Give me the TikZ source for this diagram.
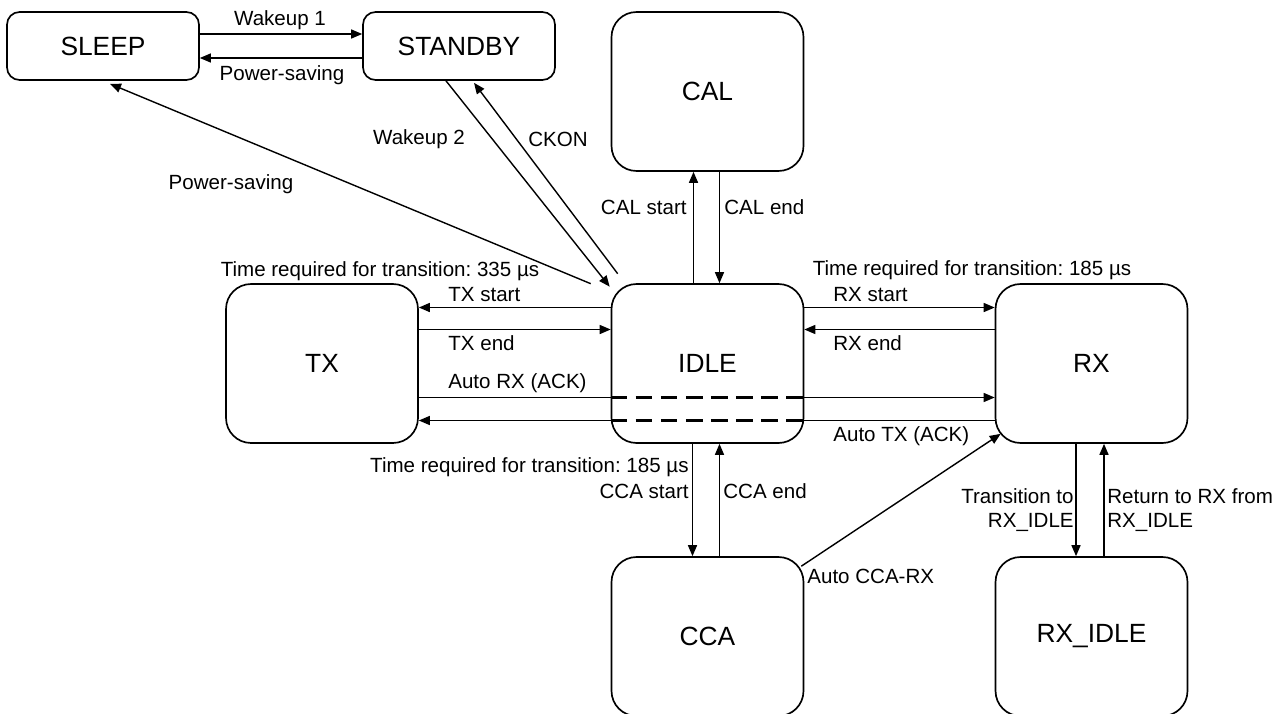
\documentclass[tikz,border=0pt]{standalone}
\usepackage{fontspec}
\setmainfont{Liberation Sans}
\usetikzlibrary{arrows.meta}
\frenchspacing

\tikzset{
  state/.style={draw, line width=0.95pt, rounded corners=0.5cm, inner sep=0pt,
    minimum width=3.84cm, minimum height=3.18cm,
    font=\fontsize{15}{18}\selectfont},
  smallstate/.style={state, rounded corners=0.25cm, minimum height=1.36cm},
  trans/.style={line width=0.8pt, -{Triangle[length=2.2mm,width=1.8mm]}},
  plain/.style={line width=0.8pt},
  via/.style={line width=1.9pt, dash pattern=on 0.334cm off 0.167cm},
  lbl/.style={inner sep=0pt, font=\fontsize{11.7}{13.5}\selectfont},
}

\begin{document}
\begin{tikzpicture}[x=0.02cm, y=-0.02cm]
\useasboundingbox (0,0) rectangle (1287,713);

% states
\node[smallstate] (sleep)   at (103,46)    {SLEEP};
\node[smallstate] (standby) at (459,46)    {STANDBY};
\node[state]      (cal)     at (707.5,91.5) {CAL};
\node[state]      (idle)    at (707.5,363.5) {IDLE};
\node[state]      (tx)      at (322,363.5)  {TX};
\node[state]      (rx)      at (1091.5,363.5) {RX};
\node[state]      (cca)     at (707.5,636.5) {CCA};
\node[state]      (rxidle)  at (1091.5,636.5) {RX\_IDLE};

% SLEEP <-> STANDBY
\draw[trans] ([yshift=0.24cm]sleep.east) -- ([yshift=0.24cm]standby.west);
\draw[trans] ([yshift=-0.24cm]standby.west) -- ([yshift=-0.24cm]sleep.east);
\node[lbl] (lw1) at (280,20) {Wakeup 1};
\node[lbl] (lps1) at (282,75) {Power-saving};

% IDLE -> SLEEP, STANDBY <-> IDLE
\draw[trans] ([shift={(-20,0.5)}]idle.north west) -- ([shift={(7,3)}]sleep.south);
\draw[trans] ([shift={(-13,0)}]standby.south) -- ([shift={(-1,3.5)}]idle.north west);
\draw[trans] ([shift={(7,-9.5)}]idle.north west) -- ([shift={(15,2)}]standby.south);
\node[lbl] (lps2) at (231,184) {Power-saving};
\node[lbl] (lw2) at (419,139) {Wakeup 2};
\node[lbl] (lckon) at (558,139) {CKON};

% IDLE <-> CAL
\draw[trans] ([xshift=-0.28cm]idle.north) -- ([xshift=-0.28cm]cal.south);
\draw[trans] ([xshift=0.24cm]cal.south) -- ([xshift=0.24cm]idle.north);
\node[lbl, anchor=east] (lcals) at (687,207) {CAL start};
\node[lbl, anchor=west] (lcale) at (724,207) {CAL end};

% IDLE <-> TX
\node[lbl] (ltx335) at (380,271) {Time required for transition: 335 µs};
\draw[trans] ([yshift=1.12cm]idle.west) -- ([yshift=1.12cm]tx.east);
\draw[trans] ([yshift=0.68cm]tx.east) -- ([yshift=0.68cm]idle.west);
\node[lbl, anchor=west] (ltxs) at (448,295) {TX start};
\node[lbl, anchor=west] (ltxe) at (448,343) {TX end};

% IDLE <-> RX
\node[lbl] (lrx185) at (972,270) {Time required for transition: 185 µs};
\draw[trans] ([yshift=1.12cm]idle.east) -- ([yshift=1.12cm]rx.west);
\draw[trans] ([yshift=0.68cm]rx.west) -- ([yshift=0.68cm]idle.east);
\node[lbl, anchor=west] (lrxs) at (833,295) {RX start};
\node[lbl, anchor=west] (lrxe) at (833,343) {RX end};

% automatic TX -> RX and RX -> TX through IDLE
\draw[plain] ([yshift=-0.68cm]tx.east) -- ([yshift=-0.68cm]idle.west);
\draw[via] ([yshift=-0.68cm]idle.west) -- ([yshift=-0.68cm]idle.east);
\draw[trans] ([yshift=-0.68cm]idle.east) -- ([yshift=-0.68cm]rx.west);
\node[lbl, anchor=west] (lautorx) at (448,383) {Auto RX (ACK)};

\draw[plain] ([yshift=-1.14cm]rx.west) -- ([yshift=-1.14cm]idle.east);
\draw[via] ([yshift=-1.14cm]idle.west) -- ([yshift=-1.14cm]idle.east);
\draw[trans] ([yshift=-1.14cm]idle.west) -- ([yshift=-1.14cm]tx.east);
\node[lbl, anchor=west] (lautotx) at (833,436) {Auto TX (ACK)};

% IDLE <-> CCA
\node[lbl, anchor=east] (lcca185) at (689,467) {Time required for transition: 185 µs};
\draw[trans] ([xshift=-0.3cm]idle.south) -- ([xshift=-0.3cm]cca.north);
\draw[trans] ([xshift=0.24cm]cca.north) -- ([xshift=0.24cm]idle.south);
\node[lbl, anchor=east] (lccas) at (689,491) {CCA start};
\node[lbl, anchor=west] (lccae) at (723,491) {CCA end};

% CCA -> RX
\draw[trans] ([shift={(-3,10)}]cca.north east) -- ([shift={(6,-10)}]rx.south west);
\node[lbl, anchor=west] (lccarx) at (807,576) {Auto CCA-RX};

% RX <-> RX_IDLE
\draw[trans] ([xshift=-0.31cm]rx.south) -- ([xshift=-0.31cm]rxidle.north);
\draw[trans] ([xshift=0.25cm]rxidle.north) -- ([xshift=0.25cm]rx.south);
\node[lbl, anchor=east, align=right] (ltorxi) at (1074,510) {Transition to\\RX\_IDLE};
\node[lbl, anchor=west, align=left] (lfromrxi) at (1107,510) {Return to RX from\\RX\_IDLE};
\end{tikzpicture}
\end{document}
